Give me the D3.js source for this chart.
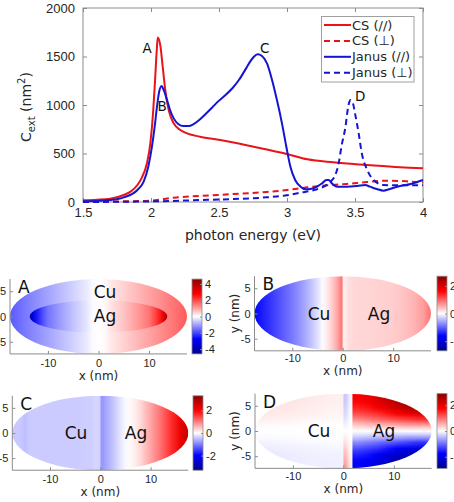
<!DOCTYPE html>
<html>
<head>
<meta charset="utf-8">
<script src="https://cdn.jsdelivr.net/npm/d3@7"></script>
<style>
  body { margin: 0; background: #fff; }
  svg { display: block; font-family: "DejaVu Sans", sans-serif; }
  .axis text { fill: #262626; }
  .axis path, .axis line { stroke: #8c8c8c; }
</style>
</head>
<body>
<svg id="fig" width="454" height="502"></svg>
<script>
// ---- spectra (photon energy in eV, C_ext in nm^2) ----
var csParE = [1.5,1.6,1.7,1.8,1.85,1.9,1.93,1.97,1.995,2.015,2.03,2.044,2.05,2.07,2.086,2.105,2.13,2.167,2.216,2.265,2.36,2.51,2.755,3.0,3.15,3.34,3.59,3.83,4.0];
var csParV = [18,24,34,72,107,175,244,400,605,914,1258,1601,1695,1600,1395,1154,948,811,742,708,673,639,570,495,440,409,381,357,347];

var csPerpE = [1.5,1.9,2.044,2.17,2.36,2.61,2.85,3.0,3.15,3.3,3.44,3.59,3.73,3.88,4.0];
var csPerpV = [3,10,20,45,62,82,103,124,151,172,186,206,220,213,200];

var janParE = [1.5,1.6,1.7,1.8,1.9,1.946,1.98,2.007,2.027,2.044,2.06,2.078,2.093,2.118,2.14,2.167,2.2,2.24,2.277,2.31,2.35,2.4,2.45,2.5,2.55,2.6,2.65,2.7,2.73,2.755,2.784,2.816,2.853,2.89,2.926,2.963,2.995,3.025,3.06,3.1,3.135,3.17,3.22,3.257,3.29,3.306,3.33,3.37,3.44,3.515,3.575,3.61,3.66,3.71,3.75,3.81,3.91,4.0];
var janParV = [8,10,20,48,124,210,364,570,776,983,1137,1196,1155,1051,948,862,804,783,783,800,840,905,975,1045,1105,1175,1265,1380,1450,1495,1522,1505,1429,1258,1051,811,570,364,227,158,131,134,158,192,227,227,192,158,158,165,175,158,134,117,131,158,186,227];

var janPerpE = [1.5,2.04,2.36,2.61,2.85,3.0,3.1,3.2,3.27,3.32,3.355,3.38,3.4,3.43,3.45,3.466,3.485,3.5,3.527,3.55,3.59,3.625,3.66,3.71,3.81,4.0];
var janPerpV = [0,7,20,31,48,69,96,124,158,210,278,399,570,776,983,1051,1017,914,708,502,330,244,200,175,172,172];

var seriesNames = ["CS (//)", "CS (\u22a5)", "Janus (//)", "Janus (\u22a5)"];
var eTicks = [1.5, 2, 2.5, 3, 3.5, 4];
var cTicks = [0, 500, 1000, 1500, 2000];
var peakNames = ["A", "B", "C", "D"];
var peakE = [2.05, 2.078, 2.784, 3.466];
var peakV = [1695, 1196, 1522, 1051];

// ---- field maps (x in nm, field in colorbar units) ----
var aShellX = [-17.5,-15,-12.5,-10,-7.5,-5,-2.5,-1.2,0,1.2,2.5,5,7.5,10,12.5,15,17.5];
var aShellV = [-1.8,-1.5,-1.25,-1.0,-0.75,-0.5,-0.25,-0.05,0,0.05,0.25,0.5,0.75,1.0,1.25,1.5,1.8];
var aCoreX = [-13.6,-13,-12,-11,-10,-7.5,-5,-2.5,-1.2,0,1.2,2.5,5,7.5,10,11,12,13,13.6];
var aCoreV = [-4.2,-3.3,-2.4,-1.9,-1.5,-1.05,-0.65,-0.3,-0.05,0,0.05,0.3,0.65,1.05,1.5,1.9,2.4,3.3,4.2];

var bCuX = [-17.5,-16,-14,-12,-10,-8,-6,-5,-4,-3,-2,-1,-0.3,0];
var bCuV = [-1.6,-1.45,-1.25,-1.05,-0.85,-0.62,-0.35,-0.2,-0.02,0.15,0.35,0.6,0.85,0.9];
var bAgX = [0,0.4,1,2,5,8,10,12,14,16,17.5];
var bAgV = [0.15,0.1,0.2,0.25,0.27,0.29,0.32,0.38,0.47,0.62,0.9];

var cCuX = [-17.5,-16,-15,-14,-10,-5,-2,-1,0];
var cCuV = [-0.42,-0.42,-0.5,-0.4,-0.4,-0.4,-0.38,-0.32,-0.36];
var cAgX = [0,0.6,1,2,3,4,5,6,7,8,10,12,14,16,17.5];
var cAgV = [-0.8,-0.8,-0.7,-0.55,-0.38,-0.2,-0.05,0.05,0.15,0.3,0.7,1.1,1.6,2.2,2.7];

// panel D: columns of values, rows top (y=+6.8) to bottom (y=-6.8)
var dRowsY = [6.8,5.7,4.6,3.4,2.3,1.1,0,-1.1,-2.3,-3.4,-4.6,-5.7,-6.8];
var dCuCols = [
  [0.2,0.2,0.18,0.15,0.1,0.03,0,-0.03,-0.08,-0.12,-0.15,-0.15,-0.15],
  [0.18,0.18,0.16,0.13,0.08,0.02,0,-0.02,-0.06,-0.1,-0.12,-0.13,-0.13],
  [0.14,0.14,0.12,0.1,0.05,0.01,0,-0.01,-0.04,-0.08,-0.1,-0.11,-0.11],
  [0.1,0.1,0.09,0.07,0.04,0.01,0,-0.01,-0.03,-0.06,-0.08,-0.1,-0.1]
];
var dStripCols = [
  [-0.37,-0.35,-0.3,-0.25,-0.18,-0.08,0,0.1,0.22,0.35,0.45,0.55,0.65],
  [-0.08,-0.06,-0.05,-0.03,-0.01,0,0,0,0.02,0.05,0.08,0.12,0.15]
];
var dAgCols = [
  [1.8,1.7,1.5,1.2,0.8,0.35,0,-0.35,-0.8,-1.2,-1.5,-1.7,-1.8],
  [1.9,1.8,1.6,1.3,0.9,0.4,0,-0.4,-0.9,-1.3,-1.6,-1.8,-1.9],
  [2.1,2.0,1.8,1.4,1.0,0.45,0,-0.45,-1.0,-1.4,-1.8,-2.0,-2.1],
  [2.4,2.2,2.0,1.6,1.1,0.5,0,-0.5,-1.1,-1.6,-2.0,-2.2,-2.4],
  [2.6,2.5,2.2,1.8,1.2,0.55,0,-0.55,-1.2,-1.8,-2.2,-2.5,-2.6],
  [2.8,2.7,2.4,1.9,1.3,0.6,0,-0.6,-1.3,-1.9,-2.4,-2.7,-2.8],
  [2.9,2.8,2.6,2.0,1.4,0.6,0,-0.6,-1.4,-2.0,-2.6,-2.8,-2.9],
  [2.9,2.9,2.7,2.1,1.4,0.6,0,-0.6,-1.4,-2.1,-2.7,-2.9,-2.9]
];

var svg = d3.select("#fig");
var textCol = "#262626";
var red = "#e8141a", blue = "#1414d2";

// ================= top spectrum =================
var x = d3.scaleLinear().domain([1.5, 4]).range([83, 423]);
var y = d3.scaleLinear().domain([0, 2000]).range([202, 8]);

var specG = svg.append("g");
specG.append("rect")
    .attr("x", 83).attr("y", 8).attr("width", 340).attr("height", 194)
    .attr("fill", "none").attr("stroke", "#8c8c8c");

specG.append("g").attr("class", "axis")
    .attr("transform", "translate(0,202)")
    .call(d3.axisBottom(x).tickValues(eTicks).tickFormat(d3.format("")).tickSize(-4).tickPadding(6))
    .call(g => g.select(".domain").remove())
    .selectAll("text").style("font-size", "13px");
specG.append("g").attr("class", "axis")
    .attr("transform", "translate(0,8)")
    .call(d3.axisTop(x).tickValues(eTicks).tickFormat("").tickSize(-4))
    .call(g => g.select(".domain").remove());
specG.append("g").attr("class", "axis")
    .attr("transform", "translate(83,0)")
    .call(d3.axisLeft(y).tickValues(cTicks).tickFormat(d3.format("")).tickSize(-4).tickPadding(8))
    .call(g => g.select(".domain").remove())
    .selectAll("text").style("font-size", "13px");
specG.append("g").attr("class", "axis")
    .attr("transform", "translate(423,0)")
    .call(d3.axisRight(y).tickValues(cTicks).tickFormat("").tickSize(-4))
    .call(g => g.select(".domain").remove());

specG.append("text")
    .attr("x", 253).attr("y", 240)
    .attr("text-anchor", "middle")
    .attr("fill", textCol).style("font-size", "14px")
    .text("photon energy (eV)");

var yl = specG.append("text")
    .attr("transform", "translate(31,107) rotate(-90)")
    .attr("text-anchor", "middle")
    .attr("fill", textCol).style("font-size", "14px");
yl.append("tspan").text("C");
yl.append("tspan").attr("dy", 4).style("font-size", "10px").text("ext");
yl.append("tspan").attr("dy", -4).text(" (nm");
yl.append("tspan").attr("dy", -6).style("font-size", "10px").text("2");
yl.append("tspan").attr("dy", 6).text(")");

var line = d3.line()
    .x(function(d) { return x(d[0]); })
    .y(function(d) { return y(d[1]); })
    .curve(d3.curveMonotoneX);

var series = [
  { e: csParE, v: csParV, color: red, dash: null },
  { e: csPerpE, v: csPerpV, color: red, dash: "6,4" },
  { e: janParE, v: janParV, color: blue, dash: null },
  { e: janPerpE, v: janPerpV, color: blue, dash: "6,4" }
];

specG.selectAll("path.curve")
    .data(series)
    .enter()
    .append("path")
    .attr("class", "curve")
    .attr("d", function(s) { return line(d3.zip(s.e, s.v)); })
    .attr("fill", "none")
    .attr("stroke", function(s) { return s.color; })
    .attr("stroke-width", 2)
    .attr("stroke-dasharray", function(s) { return s.dash; });

// peak letters
var peakDx = [-6, -4, 2.5, 4.5];
var peakDy = [15.5, 25, -1.5, 1];
specG.selectAll("text.peak")
    .data(peakNames)
    .enter()
    .append("text")
    .attr("class", "peak")
    .attr("x", function(d, i) { return x(peakE[i]) + peakDx[i]; })
    .attr("y", function(d, i) { return y(peakV[i]) + peakDy[i]; })
    .attr("text-anchor", function(d, i) { return i == 0 ? "end" : "start"; })
    .attr("fill", "#111")
    .style("font-size", "13.5px")
    .text(function(d) { return d; });

// legend
var leg = specG.append("g");
leg.append("rect")
    .attr("x", 321.5).attr("y", 16.5).attr("width", 92.5).attr("height", 65.5)
    .attr("fill", "#fff").attr("stroke", "#a0a0a0");
var legItem = leg.selectAll("g.item")
    .data(seriesNames)
    .enter()
    .append("g")
    .attr("class", "item")
    .attr("transform", function(d, i) { return "translate(0," + (25 + i * 15.9) + ")"; });
legItem.append("line")
    .attr("x1", 324).attr("x2", 351)
    .attr("stroke", function(d, i) { return series[i].color; })
    .attr("stroke-width", 2)
    .attr("stroke-dasharray", function(d, i) { return series[i].dash; });
legItem.append("text")
    .attr("x", 352).attr("y", 4.5)
    .attr("fill", textCol).style("font-size", "13px")
    .text(function(d) { return d; });

// ================= field panels =================
var cmap = d3.scaleLinear()
    .domain([-1, -0.6, 0, 0.6, 1])
    .range(["#00008c", "#0000ff", "#ffffff", "#ff0000", "#8c0000"])
    .clamp(true);

var defs = svg.append("defs");
var gid = 0;

function hGradient(xs, lim, xArr, vArr) {
  var id = "g" + (gid++);
  var g = defs.append("linearGradient").attr("id", id)
      .attr("gradientUnits", "userSpaceOnUse")
      .attr("x1", xs(xArr[0])).attr("x2", xs(xArr[xArr.length - 1]))
      .attr("y1", 0).attr("y2", 0);
  var span = xArr[xArr.length - 1] - xArr[0];
  g.selectAll("stop").data(xArr).enter().append("stop")
      .attr("offset", function(d) { return (d - xArr[0]) / span; })
      .attr("stop-color", function(d, i) { return cmap(vArr[i] / lim); });
  return "url(#" + id + ")";
}

function gridImage(cols, lim) {
  var cv = document.createElement("canvas");
  cv.width = cols.length; cv.height = cols[0].length;
  var ctx = cv.getContext("2d");
  cols.forEach(function(col, i) {
    col.forEach(function(v, j) {
      ctx.fillStyle = cmap(v / lim);
      ctx.fillRect(i, j, 1, 1);
    });
  });
  return cv.toDataURL();
}

var A = 17.5, B = 7.4;

function panel(p) {
  var s = (p.x1 - p.x0) / (2 * A);
  var xs = d3.scaleLinear().domain([-A, A]).range([p.x0, p.x1]);
  var ys = d3.scaleLinear().domain([-B, B]).range([p.cy + B * s, p.cy - B * s]);
  var g = svg.append("g");
  var cid = "clip" + (gid++);
  defs.append("clipPath").attr("id", cid)
      .append("ellipse")
      .attr("cx", xs(0)).attr("cy", ys(0)).attr("rx", A * s).attr("ry", B * s);
  var body = g.append("g").attr("clip-path", "url(#" + cid + ")");
  p.fill(body, xs, ys, s);

  // axes
  g.append("g").attr("class", "axis")
      .attr("transform", "translate(0," + ys(-B) + ")")
      .call(d3.axisBottom(xs).tickValues([-10, 0, 10]).tickFormat(d3.format("")).tickSize(-3).tickPadding(p.pad))
      .selectAll("text").style("font-size", "11px");
  g.append("g").attr("class", "axis")
      .attr("transform", "translate(" + xs(-A) + ",0)")
      .call(d3.axisLeft(ys).tickValues([-5, 0, 5]).tickFormat(d3.format("")).tickSize(-3).tickPadding(4))
      .selectAll("text").style("font-size", "11px");
  g.selectAll(".axis .domain").remove();
  g.append("path")
      .attr("d", "M" + xs(-A) + "," + ys(B) + "V" + ys(-B) + "H" + xs(A))
      .attr("fill", "none").attr("stroke", "#8c8c8c");
  g.selectAll(".axis text").text(function() { return this.textContent.replace("\u2212", "-"); });

  g.append("text")
      .attr("x", xs(0)).attr("y", ys(-B) + p.labDy)
      .attr("text-anchor", "middle").attr("fill", textCol)
      .style("font-size", "12px").text("x (nm)");
  g.append("text")
      .attr("transform", "translate(" + (xs(-A) - 16) + "," + ys(0) + ") rotate(-90)")
      .attr("text-anchor", "middle").attr("fill", textCol)
      .style("font-size", "12px").text("y (nm)");

  // labels
  g.append("text").attr("x", xs(-A) + 8).attr("y", ys(B) + 14)
      .attr("fill", "#111").style("font-size", "17px").text(p.name);
  g.append("text").attr("x", p.cu[0]).attr("y", p.cu[1]).attr("text-anchor", "middle")
      .attr("fill", "#111").style("font-size", "17px").text("Cu");
  g.append("text").attr("x", p.ag[0]).attr("y", p.ag[1]).attr("text-anchor", "middle")
      .attr("fill", "#111").style("font-size", "17px").text("Ag");

  // colorbar
  var cb = d3.scaleLinear().domain([-p.lim, p.lim]).range([ys(-B), ys(B)]);
  var id = "cb" + (gid++);
  var lg = defs.append("linearGradient").attr("id", id)
      .attr("x1", 0).attr("x2", 0).attr("y1", 1).attr("y2", 0);
  lg.selectAll("stop").data(cmap.domain()).enter().append("stop")
      .attr("offset", function(d) { return (d + 1) / 2; })
      .attr("stop-color", function(d) { return cmap(d); });
  g.append("rect")
      .attr("x", p.cbx).attr("y", ys(B)).attr("width", 10).attr("height", ys(-B) - ys(B))
      .attr("fill", "url(#" + id + ")").attr("stroke", "#8c8c8c").attr("stroke-width", 0.8);
  g.append("g").attr("class", "axis")
      .attr("transform", "translate(" + (p.cbx + 10) + ",0)")
      .call(d3.axisRight(cb).tickValues(p.cbTicks).tickFormat(function(d) { return String(d); }).tickSize(-2).tickPadding(3))
      .call(function(a) { a.select(".domain").remove(); })
      .selectAll("text").style("font-size", "11px");
}

panel({
  name: "A", x0: 10, x1: 187, cy: 316.5, cbx: 192, lim: 4.6, cbTicks: [-4, -2, 0, 2, 4],
  pad: 5, labDy: 26, cu: [105, 298], ag: [105, 322],
  fill: function(body, xs, ys, s) {
    body.append("rect").attr("x", xs(-A)).attr("y", ys(B)).attr("width", 2 * A * s).attr("height", 2 * B * s)
        .attr("fill", hGradient(xs, 4.6, aShellX, aShellV));
    body.append("ellipse").attr("cx", xs(0)).attr("cy", ys(0)).attr("rx", 13.6 * s).attr("ry", 3.2 * s)
        .attr("fill", hGradient(xs, 4.6, aCoreX, aCoreV));
  }
});

panel({
  name: "B", x0: 254.5, x1: 431, cy: 313.5, cbx: 437, lim: 2.7, cbTicks: [-2, 0, 2],
  pad: 3, labDy: 24.5, cu: [319, 320], ag: [379, 320],
  fill: function(body, xs, ys, s) {
    body.append("rect").attr("x", xs(-A)).attr("y", ys(B)).attr("width", A * s).attr("height", 2 * B * s)
        .attr("fill", hGradient(xs, 2.7, bCuX, bCuV));
    body.append("rect").attr("x", xs(0)).attr("y", ys(B)).attr("width", A * s).attr("height", 2 * B * s)
        .attr("fill", hGradient(xs, 2.7, bAgX, bAgV));
  }
});

panel({
  name: "C", x0: 12.3, x1: 188.3, cy: 433, cbx: 193, lim: 3.3, cbTicks: [-2, 0, 2],
  pad: 5, labDy: 26, cu: [76, 439], ag: [136, 439],
  fill: function(body, xs, ys, s) {
    body.append("rect").attr("x", xs(-A)).attr("y", ys(B)).attr("width", A * s).attr("height", 2 * B * s)
        .attr("fill", hGradient(xs, 3.3, cCuX, cCuV));
    body.append("rect").attr("x", xs(0)).attr("y", ys(B)).attr("width", A * s).attr("height", 2 * B * s)
        .attr("fill", hGradient(xs, 3.3, cAgX, cAgV));
  }
});

panel({
  name: "D", x0: 255, x1: 431.7, cy: 431, cbx: 437, lim: 2.9, cbTicks: [-2, 0, 2],
  pad: 3.5, labDy: 25, cu: [319, 437], ag: [384, 437],
  fill: function(body, xs, ys, s) {
    var parts = [[dCuCols, -A, 0], [dStripCols, 0, 1.8], [dAgCols, 1.8, A]];
    parts.forEach(function(pt) {
      body.append("image")
          .attr("href", gridImage(pt[0], 2.9))
          .attr("x", xs(pt[1])).attr("width", xs(pt[2]) - xs(pt[1]))
          .attr("y", ys(B)).attr("height", 2 * B * s)
          .attr("preserveAspectRatio", "none");
    });
  }
});
</script>
</body>
</html>
